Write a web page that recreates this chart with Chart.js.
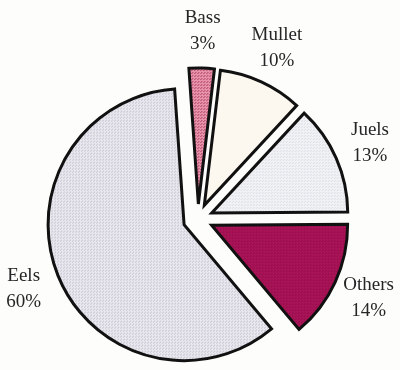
<!DOCTYPE html>
<html>
<head>
<meta charset="utf-8">
<script src="https://cdn.jsdelivr.net/npm/chart.js@4/dist/chart.umd.min.js"></script>
<style>
  html, body { margin: 0; padding: 0; background: #fdfdfb; }
  #wrap { width: 400px; height: 370px; }
</style>
</head>
<body>
<div id="wrap"><canvas id="catchChart" width="400" height="370"></canvas></div>
<script>
var species = ["Bass", "Mullet", "Juels", "Others", "Eels"];
var shares = [3, 10, 13, 14, 60];

var EXPLODE = 15; // px each slice is pulled out from the centre

// dotted fill like a printed screen
function dots(base, dot) {
  var c = document.createElement("canvas");
  c.width = 3; c.height = 3;
  var g = c.getContext("2d");
  g.fillStyle = base;
  g.fillRect(0, 0, 3, 3);
  g.fillStyle = dot;
  g.fillRect(0, 0, 1, 1);
  g.fillRect(2, 1, 1, 1);
  return g.createPattern(c, "repeat");
}

var fills = [
  dots("#e995ad", "#a8385a"),
  "#fdf8ef",
  dots("#f1f2f5", "#dcdde3"),
  dots("#ad1459", "#860c42"),
  dots("#ebe9f0", "#bdbbc6")
];

// draw every arc pulled out along its mid angle, same radius for all
var explode = {
  id: "explode",
  beforeDatasetsDraw: function(chart) {
    var ctx = chart.ctx;
    var meta = chart.getDatasetMeta(0);
    meta.data.forEach(function(arc) {
      var mid = (arc.startAngle + arc.endAngle) / 2;
      ctx.save();
      ctx.translate(Math.cos(mid) * EXPLODE, Math.sin(mid) * EXPLODE);
      arc.draw(ctx);
      ctx.restore();
    });
    return false;
  },
  // name + percent outside each slice
  afterDraw: function(chart) {
    var ctx = chart.ctx;
    var meta = chart.getDatasetMeta(0);
    ctx.save();
    ctx.font = "19px 'Liberation Serif', 'Times New Roman', serif";
    ctx.fillStyle = "#262626";
    ctx.textAlign = "center";
    ctx.textBaseline = "middle";
    meta.data.forEach(function(arc, i) {
      var mid = (arc.startAngle + arc.endAngle) / 2;
      var r = arc.outerRadius + EXPLODE + 37;
      var x = arc.x + Math.cos(mid) * r;
      var y = arc.y + Math.sin(mid) * r;
      ctx.fillText(species[i], x, y - 13);
      ctx.fillText(shares[i] + "%", x, y + 13);
    });
    ctx.restore();
  }
};

var ctx = document.getElementById("catchChart").getContext("2d");
var chart = new Chart(ctx, {
  type: "pie",
  data: {
    labels: species,
    datasets: [{
      data: shares,
      backgroundColor: fills,
      borderColor: "#111111",
      borderWidth: 3,
      borderJoinStyle: "miter"
    }]
  },
  options: {
    responsive: false,
    animation: false,
    rotation: -4,
    radius: 136,
    layout: { padding: { left: 0, right: 4, top: 68, bottom: 0 } },
    plugins: {
      legend: { display: false },
      tooltip: { enabled: false }
    }
  },
  plugins: [explode]
});
</script>
</body>
</html>
